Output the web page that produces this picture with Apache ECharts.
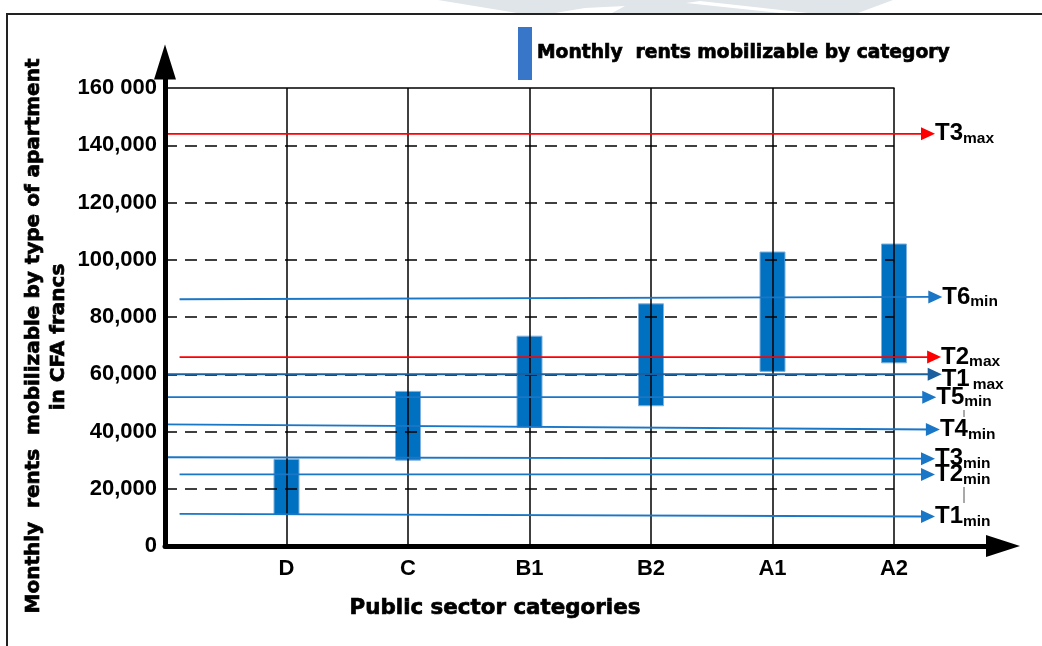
<!DOCTYPE html>
<html><head><meta charset="utf-8">
<script src="https://cdn.jsdelivr.net/npm/echarts@6/dist/echarts.min.js"></script>
<style>html,body{margin:0;padding:0;background:#fff}#c{width:1042px;height:646px}</style>
</head><body><div id="c"></div>
<script>
// ---- data ----
const categories = ['D', 'C', 'B1', 'B2', 'A1', 'A2'];
const rangeLow  = [11000, 30000, 41500, 49000, 61000, 64000];
const rangeHigh = [30300, 54000, 73300, 84600, 102700, 105500];
const yTickLabels = ['0', '20,000', '40,000', '60,000', '80,000', '100,000', '120,000', '140,000', '160 000'];
const thresholdNames  = ['T3max', 'T6min', 'T2max', 'T1max', 'T5min', 'T4min', 'T3min', 'T2min', 'T1min'];
const thresholdStartX = [0, 0.12, 0.12, 0, 0, 0, 0, 0.12, 0.12];
const thresholdEndX   = [6.28, 6.34, 6.33, 6.335, 6.29, 6.32, 6.28, 6.28, 6.28];
const thresholdStartY = [144000, 86200, 66000, 60000, 52000, 42500, 31000, 25000, 11200];
const thresholdEndY   = [144000, 87000, 66000, 60000, 52000, 40700, 30500, 25000, 10300];
const legendName = 'Monthly  rents mobilizable by category';
const yTitle1 = 'Monthly  rents  mobilizable by type of apartment';
const yTitle2 = 'in CFA francs';
const xTitle = 'Public sector categories';

// ---- styles ----
const RED = '#ff0000', BLUE = '#1a76c6', DARKBLUE = '#1b5f9e';
const lineColor = {T3max: RED, T2max: RED, T1max: DARKBLUE};
const labelDy = {T1max: 5};
const labelGap = {T1max: 3};
const tickFont = 'Liberation Sans';
const heavyFont = 'DejaVu Sans';
const UNIT = 729 / 6; // px per category step

const thresholdSeries = thresholdNames.map((n, i) => {
  const c = lineColor[n] || BLUE;
  const main = n.slice(0, 2), sub = n.slice(2);
  return {
    type: 'line', name: n, xAxisIndex: 3, yAxisIndex: 2, z: 6, silent: true,
    data: [
      {value: [thresholdStartX[i], thresholdStartY[i]], symbol: 'none'},
      {value: [thresholdEndX[i], thresholdEndY[i]], symbol: 'triangle', symbolSize: [13, 14], symbolRotate: -90}
    ],
    lineStyle: {color: c, width: 1.8},
    itemStyle: {color: c},
    endLabel: {
      show: true, distance: 7, offset: [0, labelDy[n] || 0],
      formatter: '{m|' + main + '}{s|' + sub + '}',
      rich: {
        m: {fontSize: 24, fontWeight: 'bold', fontFamily: tickFont, color: '#000'},
        s: {fontSize: 15.5, fontWeight: 'bold', fontFamily: tickFont, color: '#000', padding: [10, 0, 0, labelGap[n] || 0]}
      }
    }
  };
});

const chart = echarts.init(document.getElementById('c'), null, {renderer: 'canvas'});
chart.setOption({
  animation: false,
  backgroundColor: '#fff',
  grid: [
    {left: 165, top: 88, width: 729, height: 458},
    {left: 165, top: 62, width: 838, height: 484},
    {left: 165, top: 88, width: 838, height: 458}
  ],
  legend: {
    left: 518, top: 27, padding: 0, itemWidth: 14, itemHeight: 53, icon: 'rect', selectedMode: false,
    data: [{name: legendName, itemStyle: {color: '#3776c9'}}],
    textStyle: {fontFamily: heavyFont, fontWeight: 'bold', fontSize: 18.7, color: '#000', textBorderColor: '#000', textBorderWidth: 0.7}
  },
  xAxis: [
    {gridIndex: 0, type: 'value', min: 0, max: 6, interval: 1, z: 4,
     axisLine: {show: false}, axisTick: {show: false},
     axisLabel: {formatter: v => categories[v - 1] || '', fontSize: 22, fontWeight: 'bold', fontFamily: tickFont, color: '#000', margin: 12},
     splitLine: {show: true, showMinLine: false, showMaxLine: true, lineStyle: {color: '#000', width: 1.5}}},
    {gridIndex: 0, type: 'value', position: 'top', min: 0, max: 6, z: 4,
     axisLine: {show: true, lineStyle: {color: '#000', width: 1.5}}, axisTick: {show: false}, axisLabel: {show: false}, splitLine: {show: false}},
    {gridIndex: 1, type: 'value', min: 0, max: 1, z: 7,
     axisLine: {show: true, symbol: ['none', 'triangle'], symbolSize: [22, 34], lineStyle: {color: '#000', width: 5}},
     axisTick: {show: false}, axisLabel: {show: false}, splitLine: {show: false}},
    {gridIndex: 2, type: 'value', min: 0, max: 838 / UNIT, show: false}
  ],
  yAxis: [
    {gridIndex: 0, type: 'value', min: 0, max: 160000, interval: 20000, z: 4,
     axisLine: {show: false}, axisTick: {show: false},
     axisLabel: {formatter: v => yTickLabels[Math.round(v / 20000)], fontSize: 22, fontWeight: 'bold', fontFamily: tickFont, color: '#000', margin: 8},
     splitLine: {show: true, showMinLine: false, showMaxLine: false, lineStyle: {color: '#000', width: 1.5, type: [12, 8]}}},
    {gridIndex: 1, type: 'value', min: 0, max: 1, z: 7,
     axisLine: {show: true, symbol: ['none', 'triangle'], symbolSize: [22, 35], lineStyle: {color: '#000', width: 5}},
     axisTick: {show: false}, axisLabel: {show: false}, splitLine: {show: false}},
    {gridIndex: 2, type: 'value', min: 0, max: 160000, show: false}
  ],
  series: [
    {
      type: 'custom', name: legendName, xAxisIndex: 0, yAxisIndex: 0, z: 1, silent: true,
      data: categories.map((c, i) => [i + 1, rangeLow[i], rangeHigh[i]]),
      encode: {x: 0, y: [1, 2]},
      itemStyle: {color: '#0070c0'},
      renderItem: (params, api) => {
        const x = api.value(0);
        const top = api.coord([x, api.value(2)]);
        const bot = api.coord([x, api.value(1)]);
        const w = 25;
        return {type: 'rect', shape: {x: top[0] - w / 2, y: top[1], width: w, height: bot[1] - top[1]},
                style: {fill: '#0070c0', stroke: '#7fb0de', lineWidth: 1}};
      }
    }
  ].concat(thresholdSeries),
  graphic: [
    {type: 'polygon', z: -10, silent: true, shape: {points: [[438, 0], [893, 0], [858, 13], [517, 13]]}, style: {fill: '#dfe5e8'}},
    {type: 'polygon', z: -9, silent: true, shape: {points: [[555, 13], [585, 8], [625, 6], [612, 13]]}, style: {fill: '#ffffff'}},
    {type: 'polygon', z: -9, silent: true, shape: {points: [[686, 3], [700, 1], [808, 13], [780, 13]]}, style: {fill: '#ffffff'}},
    {type: 'rect', z: 100, silent: true, shape: {x: 7, y: 14, width: 1100, height: 700}, style: {fill: 'none', stroke: '#222', lineWidth: 2}},
    {type: 'text', x: 34, y: 336, rotation: Math.PI / 2, silent: true,
     style: {text: yTitle1, fontSize: 20, fontWeight: 'bold', fontFamily: heavyFont, fill: '#000', stroke: '#000', lineWidth: 0.7, align: 'center', verticalAlign: 'middle'}},
    {type: 'text', x: 59, y: 337, rotation: Math.PI / 2, silent: true,
     style: {text: yTitle2, fontSize: 20, fontWeight: 'bold', fontFamily: heavyFont, fill: '#000', stroke: '#000', lineWidth: 0.7, align: 'center', verticalAlign: 'middle'}},
    {type: 'text', x: 495, y: 608, silent: true,
     style: {text: xTitle, fontSize: 21.4, fontWeight: 'bold', fontFamily: heavyFont, fill: '#000', stroke: '#000', lineWidth: 0.7, align: 'center', verticalAlign: 'middle'}},
    {type: 'line', silent: true, shape: {x1: 964, y1: 410, x2: 964, y2: 417}, style: {stroke: '#555', lineWidth: 1}},
    {type: 'line', silent: true, shape: {x1: 964, y1: 487, x2: 964, y2: 503}, style: {stroke: '#555', lineWidth: 1}}
  ]
});
</script></body></html>
